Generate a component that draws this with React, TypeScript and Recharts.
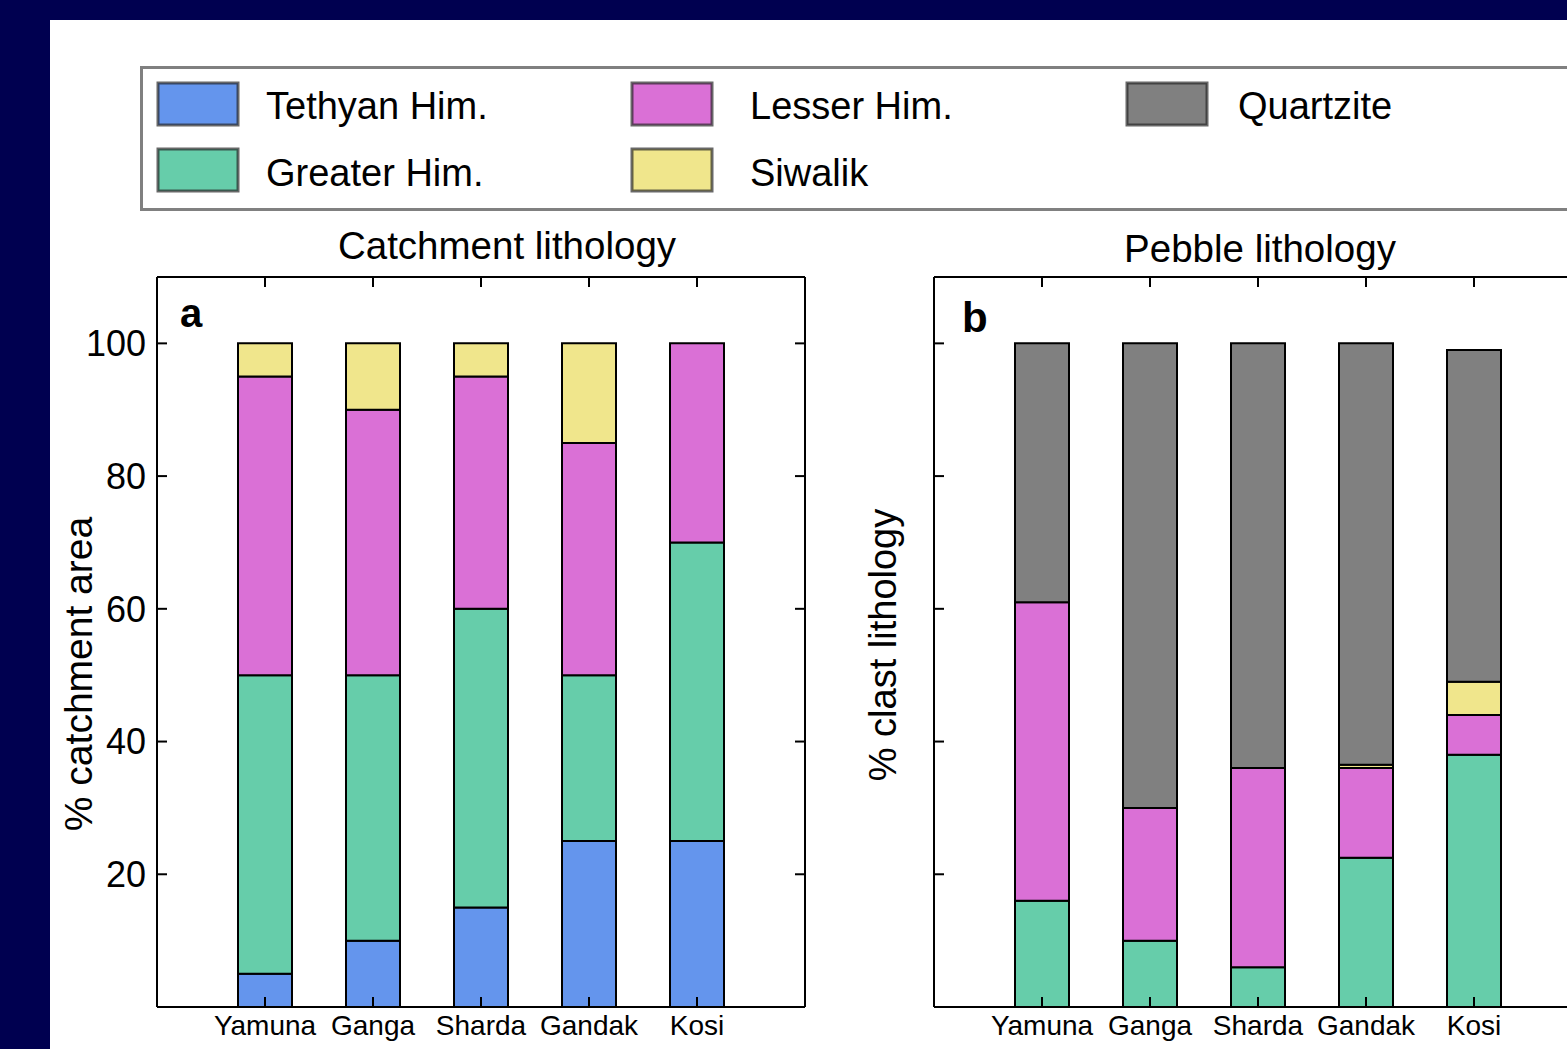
import { BarChart, Bar, XAxis, YAxis, Label } from 'recharts'

const rivers = ['Yamuna', 'Ganga', 'Sharda', 'Gandak', 'Kosi']

// catchment area, % (panel a)
const catchTethyan = [5, 10, 15, 25, 25]
const catchGreater = [45, 40, 45, 25, 45]
const catchLesser = [45, 40, 35, 35, 30]
const catchSiwalik = [5, 10, 5, 15, 0]

// clast counts, % (panel b)
const pebbleGreater = [16, 10, 6, 22.5, 38]
const pebbleLesser = [45, 20, 30, 13.5, 6]
const pebbleSiwalik = [0, 0, 0, 0.5, 5]
const pebbleQuartzite = [39, 70, 64, 63.5, 50]

const yTicks = [20, 40, 60, 80, 100]

const lith = [
  { key: 'tethyan', name: 'Tethyan Him.', color: '#6495ED' },
  { key: 'greater', name: 'Greater Him.', color: '#66CDAA' },
  { key: 'lesser', name: 'Lesser Him.', color: '#DA70D6' },
  { key: 'siwalik', name: 'Siwalik', color: '#F0E68C' },
  { key: 'quartzite', name: 'Quartzite', color: '#808080' },
]

const catchData = rivers.map((r, i) => ({
  name: r,
  tethyan: catchTethyan[i],
  greater: catchGreater[i],
  lesser: catchLesser[i],
  siwalik: catchSiwalik[i],
}))

const pebbleData = rivers.map((r, i) => ({
  name: r,
  greater: pebbleGreater[i],
  lesser: pebbleLesser[i],
  siwalik: pebbleSiwalik[i],
  quartzite: pebbleQuartzite[i],
}))

const FONT = '"Liberation Sans", Arial, Helvetica, sans-serif'
const line = { stroke: '#000', strokeWidth: 2 }
const blank = () => ''

function yLabel(text: string, size: number, dx: number, dy: number) {
  return (props: any) => {
    const vb = props.viewBox
    const cx = vb.x + vb.width / 2 + dx
    const cy = vb.y + vb.height / 2 + dy
    return (
      <text x={cx} y={cy} transform={`rotate(-90 ${cx} ${cy})`} textAnchor="middle"
        dominantBaseline="central" fontSize={size} fill="#000">{text}</text>
    )
  }
}

function Panel({ data, keys, yWidth, label, labelSize, showTicks, dx, dy }: any) {
  return (
    <BarChart width={yWidth + 648 + 25} height={1049} data={data}
      margin={{ top: 276, right: 24, bottom: 2, left: 0 }}>
      <XAxis dataKey="name" padding={{ left: 54, right: 54 }} height={40}
        axisLine={line} tickLine={line} tickSize={-10} tickMargin={18}
        tick={{ fontSize: 28, fill: '#000' }} interval={0} />
      <XAxis xAxisId="top" dataKey="name" orientation="top" padding={{ left: 54, right: 54 }}
        height={1} axisLine={line} tickLine={line} tickSize={-10} tickFormatter={blank} interval={0} />
      <YAxis domain={[0, 110]} ticks={yTicks} width={yWidth} allowDataOverflow
        axisLine={line} tickLine={line} tickSize={-10} tickMargin={21}
        tick={{ fontSize: 36, fill: '#000' }} tickFormatter={showTicks ? undefined : blank}>
        <Label content={yLabel(label, labelSize, dx, dy)} />
      </YAxis>
      <YAxis yAxisId="r" orientation="right" type="number" domain={[0, 110]} ticks={yTicks} width={1}
        allowDataOverflow axisLine={line} tickLine={line} tickSize={-10} tickFormatter={blank} />
      {keys.map((k: string) => {
        const l = lith.find(s => s.key === k)!
        return (
          <Bar key={k} dataKey={k} name={l.name} stackId="s" fill={l.color} barSize={54}
            stroke="#000" strokeWidth={2} isAnimationActive={false} />
        )
      })}
    </BarChart>
  )
}

const legendCols = [158, 632, 1127]
const legendTextX = [266, 750, 1238]
const legendRows = [83, 149]
const legendBase = [119, 186]

export default function App() {
  return (
    <div style={{ position: 'fixed', left: 0, top: 0, width: 1567, height: 1049, overflow: 'hidden',
      background: '#000050', fontFamily: FONT }}>
      <div style={{ position: 'absolute', left: 50, top: 20, right: 0, bottom: 0, background: '#fff' }} />
      <div style={{ position: 'absolute', left: 140, top: 66, width: 1500, height: 145,
        border: '3px solid #808080', boxSizing: 'border-box' }} />
      <svg width={1567} height={1049} style={{ position: 'absolute', left: 0, top: 0 }}>
        {lith.map((l, i) => {
          const c = Math.floor(i / 2)
          const r = i % 2
          return (
            <g key={l.key}>
              <rect x={legendCols[c]} y={legendRows[r]} width={80} height={42} fill={l.color}
                stroke="rgba(40,40,40,0.7)" strokeWidth={3} />
              <text x={legendTextX[c]} y={legendBase[r]} fontSize={38} fill="#000">{l.name}</text>
            </g>
          )
        })}
        <text x={507} y={259} fontSize={38.5} textAnchor="middle" fill="#000">Catchment lithology</text>
        <text x={1260} y={262} fontSize={38.5} textAnchor="middle" fill="#000">Pebble lithology</text>
        <text x={180} y={327} fontSize={40} fontWeight="bold" fill="#000">a</text>
        <text x={962} y={332} fontSize={42} fontWeight="bold" fill="#000">b</text>
      </svg>
      <div style={{ position: 'absolute', left: 0, top: 0 }}>
        <Panel data={catchData} keys={['tethyan', 'greater', 'lesser', 'siwalik']} yWidth={157}
          label="% catchment area" labelSize={39} showTicks dx={0} dy={32} />
      </div>
      <div style={{ position: 'absolute', left: 840, top: 0 }}>
        <Panel data={pebbleData} keys={['greater', 'lesser', 'siwalik', 'quartzite']} yWidth={94}
          label="% clast lithology" labelSize={38} showTicks={false} dx={-4} dy={3} />
      </div>
    </div>
  )
}
